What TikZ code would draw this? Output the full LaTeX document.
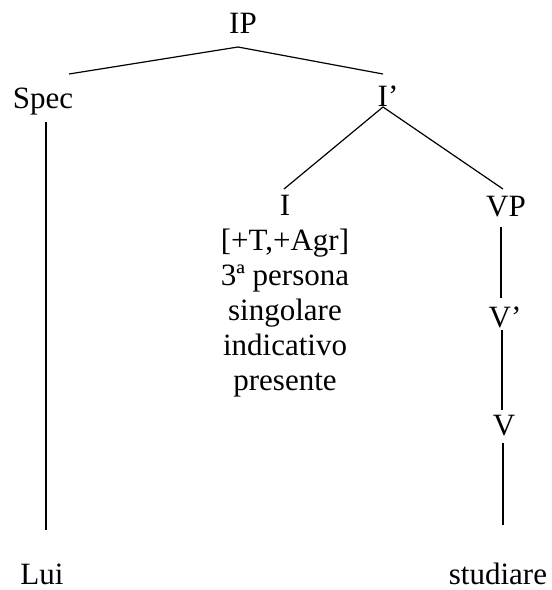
\documentclass[tikz,border=0pt]{standalone}
\usepackage{fontspec}
\setmainfont{Liberation Serif}
\begin{document}
\begin{tikzpicture}[x=1pt,y=-1pt,anchor=base,inner sep=0pt,line width=1.2pt,
    font=\fontsize{31}{35}\selectfont]
  \useasboundingbox (0,0) rectangle (552,590);
  \path node (IP) at (243,33) {IP}
     node (Spec) at (43,108) {Spec} node (Ibar) at (388,106) {I’}
     node[align=center] (I) at (285,390) {I\\{[+T,+Agr]}\\3ª persona\\singolare\\indicativo\\presente}
     node (VP) at (506,216) {VP} node (Vbar) at (505,327) {V’} node (V) at (504,435) {V}
     node (Lui) at (42,584) {Lui} node (stud) at (498,584) {studiare};
  \path (238,47) coordinate (ip-foot) (69,74) coordinate (spec-top) (383,74) coordinate (ibar-top)
     (46,122) coordinate (spec-foot) (46,530) coordinate (lui-top)
     (383,107) coordinate (ibar-foot) (284,189) coordinate (i-top) (503,189) coordinate (vp-top)
     (501,227) coordinate (vp-foot) (501,298) coordinate (vbar-top)
     (502,330) coordinate (vbar-foot) (502,410) coordinate (v-top)
     (503,443) coordinate (v-foot) (503,525) coordinate (stud-top);
  \draw (spec-top) -- (ip-foot) -- (ibar-top);
  \draw (spec-foot) -- (lui-top);
  \draw (i-top) -- (ibar-foot) -- (vp-top);
  \draw (vp-foot) -- (vbar-top);
  \draw (vbar-foot) -- (v-top);
  \draw (v-foot) -- (stud-top);
\end{tikzpicture}
\end{document}
